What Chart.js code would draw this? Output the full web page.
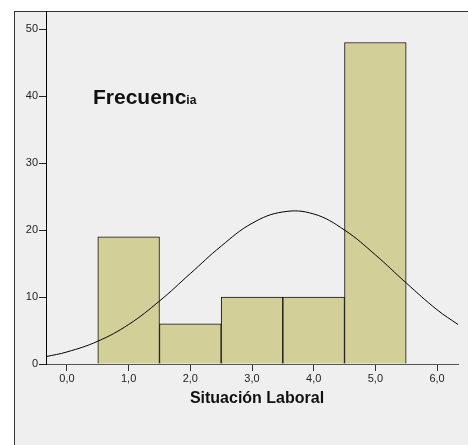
<!DOCTYPE html>
<html>
<head>
<meta charset="utf-8">
<script src="https://cdn.jsdelivr.net/npm/chart.js@4"></script>
<style>
  html, body { margin: 0; padding: 0; background: #ffffff; }
  #marco {
    position: absolute; left: 14px; top: 11px; width: 460px; height: 440px;
    background: #efefef; border-left: 1px solid #333; border-top: 1px solid #333;
  }
  #grafico { position: absolute; left: 0; top: 0; }
</style>
</head>
<body>
<div id="marco"></div>
<canvas id="grafico" width="468" height="445"></canvas>
<script>
// datos del histograma
const categorias = [1, 2, 3, 4, 5];
const frecuencias = [19, 6, 10, 10, 48];
// curva normal
const curvaX = [-0.34, 0, 0.5, 1, 1.5, 2, 2.5, 3, 3.5, 4, 4.5, 5, 5.5, 6, 6.34];
const curvaY = [1.1, 1.8, 3.4, 5.9, 9.4, 13.5, 17.6, 21.0, 22.7, 22.4, 20.0, 16.3, 12.1, 8.1, 5.9];
const ticksX = [0, 1, 2, 3, 4, 5, 6];
const ticksY = [0, 10, 20, 30, 40, 50];
const tituloY = 'Frecuencia';
const tituloX = 'Situación Laboral';

const fuente = "'Liberation Sans', Arial, sans-serif";

const textos = {
    id: 'textos',
    afterDraw(chart) {
        const ctx = chart.ctx;
        ctx.save();
        ctx.fillStyle = '#111';
        ctx.textBaseline = 'alphabetic';
        // "Frecuenc" grande + "ia" pequeño como en el original
        ctx.font = 'bold 21px ' + fuente;
        ctx.textAlign = 'left';
        const parte1 = tituloY.slice(0, 8);
        ctx.fillText(parte1, 93, 104);
        const w = ctx.measureText(parte1).width;
        ctx.font = 'bold 12px ' + fuente;
        ctx.fillText(tituloY.slice(8), 93 + w, 104);
        ctx.font = 'bold 16px ' + fuente;
        ctx.textAlign = 'center';
        ctx.fillText(tituloX, 257, 403);
        ctx.restore();
    }
};

new Chart(document.getElementById('grafico'), {
    type: 'bar',
    data: {
        datasets: [{
            type: 'line',
            data: curvaX.map((x, i) => ({ x: x, y: curvaY[i] })),
            borderColor: '#000',
            borderWidth: 1,
            pointRadius: 0,
            tension: 0.4,
            fill: false,
            order: 0
        }, {
            type: 'bar',
            data: categorias.map((c, i) => ({ x: c, y: frecuencias[i] })),
            backgroundColor: '#d3cf98',
            borderColor: '#111',
            borderWidth: 1,
            barPercentage: 1,
            categoryPercentage: 1,
            order: 1
        }]
    },
    options: {
        responsive: false,
        animation: false,
        layout: { padding: { left: 0, top: 11, right: 10, bottom: 0 } },
        plugins: { legend: { display: false }, tooltip: { enabled: false } },
        scales: {
            x: {
                type: 'linear',
                min: -0.34,
                max: 6.34,
                offset: false,
                afterFit(scale) { scale.height = 81; },
                afterBuildTicks(scale) { scale.ticks = ticksX.map(v => ({ value: v })); },
                grid: { offset: false, drawOnChartArea: false, drawTicks: true, tickLength: 7, tickColor: '#333', tickWidth: 1 },
                border: { display: true, color: '#555', width: 1 },
                ticks: {
                    padding: 1,
                    color: '#222',
                    font: { family: fuente, size: 11 },
                    callback: v => v.toFixed(1).replace('.', ',')
                }
            },
            y: {
                min: 0,
                max: 52.7,
                afterFit(scale) { scale.width = 46; },
                afterBuildTicks(scale) { scale.ticks = ticksY.map(v => ({ value: v })); },
                grid: { drawOnChartArea: false, drawTicks: true, tickLength: 7, tickColor: '#222', tickWidth: 1 },
                border: { display: true, color: '#000', width: 1 },
                ticks: {
                    padding: 1,
                    color: '#222',
                    font: { family: fuente, size: 11 },
                    callback: v => String(v)
                }
            }
        }
    },
    plugins: [textos]
});
</script>
</body>
</html>
